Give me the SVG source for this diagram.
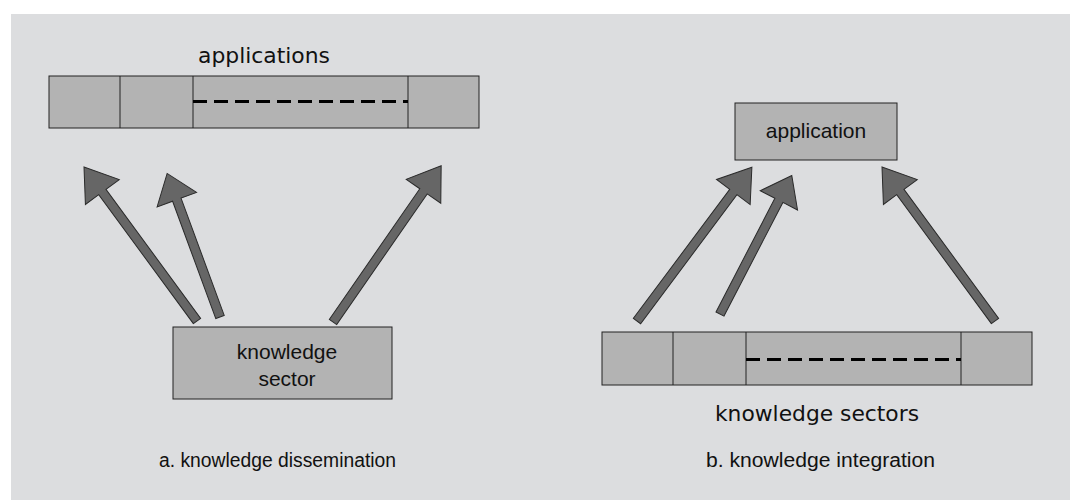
<svg xmlns="http://www.w3.org/2000/svg" width="1075" height="500" viewBox="0 0 1075 500">
  <style>
    .panel { fill: #dcdddf; }
    .box { fill: #b3b3b3; stroke: #222; stroke-width: 1; }
    .div { stroke: #222; stroke-width: 1; }
    .dash { stroke: #000; stroke-width: 3; stroke-dasharray: 14 7; }
    .arrow { fill: #666; stroke: #2a2a2a; stroke-width: 1; stroke-linejoin: miter; }
    .lbl { font-family: "Liberation Sans", Arial, sans-serif; font-size: 21px; fill: #111; text-anchor: middle; }
    .cap { font-family: "DejaVu Sans", sans-serif; font-size: 21px; fill: #111; }
    .sub { font-family: "Liberation Sans", Arial, sans-serif; font-size: 20px; fill: #111; }
  </style>

  <rect class="panel" x="11" y="14" width="1059" height="486"/>

  <!-- a. knowledge dissemination -->
  <g id="applications-row">
    <rect class="box" x="49" y="76" width="430" height="52"/>
    <line class="div" x1="120" y1="76" x2="120" y2="128"/>
    <line class="div" x1="193" y1="76" x2="193" y2="128"/>
    <line class="div" x1="408" y1="76" x2="408" y2="128"/>
    <line class="dash" x1="193" y1="101.5" x2="408" y2="101.5"/>
    <text class="cap" x="198" y="63" textLength="132" lengthAdjust="spacingAndGlyphs">applications</text>
  </g>

  <g id="knowledge-sector">
    <rect class="box" x="173" y="327" width="219" height="72"/>
    <text class="lbl" x="287" y="359">knowledge</text>
    <text class="lbl" x="287" y="386">sector</text>
  </g>

  <!-- b. knowledge integration -->
  <g id="application">
    <rect class="box" x="735" y="103" width="162" height="57"/>
    <text class="lbl" x="816" y="138">application</text>
  </g>

  <g id="knowledge-sectors-row">
    <rect class="box" x="602" y="332" width="430" height="53"/>
    <line class="div" x1="673" y1="332" x2="673" y2="385"/>
    <line class="div" x1="746" y1="332" x2="746" y2="385"/>
    <line class="div" x1="961" y1="332" x2="961" y2="385"/>
    <line class="dash" x1="746" y1="359.5" x2="961" y2="359.5"/>
    <text class="cap" x="715" y="421" textLength="204" lengthAdjust="spacingAndGlyphs">knowledge sectors</text>
  </g>

  <!-- block arrows: drawn along +x from the tail, then rotated into place -->
  <g id="connectors">
    <path class="arrow" transform="translate(197,321) rotate(-126.27)" d="M0,-4.5 H160 V-21 L191,0 L160,21 V4.5 H0 Z"/>
    <path class="arrow" transform="translate(220,317) rotate(-110.21)" d="M0,-4.5 H125 V-21 L153,0 L125,21 V4.5 H0 Z"/>
    <path class="arrow" transform="translate(333,322) rotate(-55.30)" d="M0,-4.5 H159 V-21 L190,0 L159,21 V4.5 H0 Z"/>
    <path class="arrow" transform="translate(637,321) rotate(-53.25)" d="M0,-4.5 H161 V-21 L192,0 L161,21 V4.5 H0 Z"/>
    <path class="arrow" transform="translate(720,314) rotate(-62.61)" d="M0,-4.5 H128 V-21 L156,0 L128,21 V4.5 H0 Z"/>
    <path class="arrow" transform="translate(995,321) rotate(-126.27)" d="M0,-4.5 H160 V-21 L191,0 L160,21 V4.5 H0 Z"/>
  </g>

  <g id="captions">
    <text class="sub" x="159" y="467" textLength="237" lengthAdjust="spacingAndGlyphs">a. knowledge dissemination</text>
    <text class="sub" x="706" y="467" textLength="229" lengthAdjust="spacingAndGlyphs">b. knowledge integration</text>
  </g>
</svg>
